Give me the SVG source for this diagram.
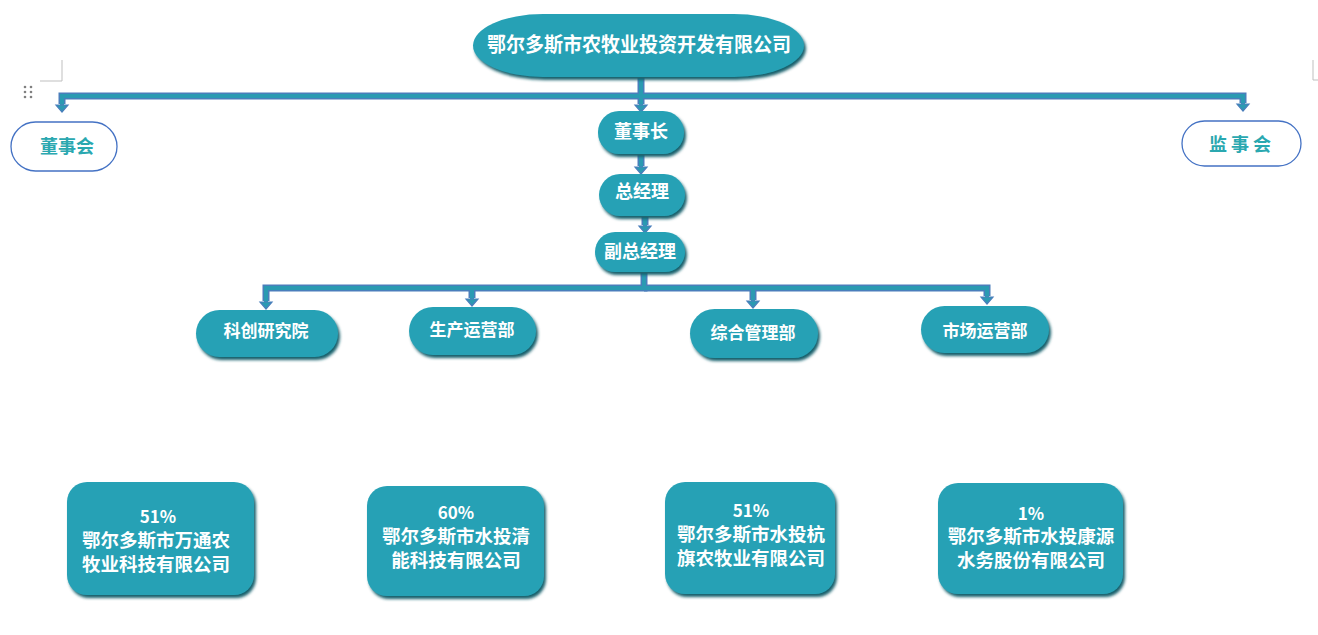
<svg xmlns="http://www.w3.org/2000/svg" width="1318" height="635" viewBox="0 0 1318 635">
<defs>
<filter id="sh" x="-10%" y="-20%" width="125%" height="150%">
<feGaussianBlur in="SourceAlpha" stdDeviation="1.6"/>
<feOffset dx="2" dy="3" result="b"/>
<feFlood flood-color="#17606c"/>
<feComposite in2="b" operator="in"/>
<feMerge><feMergeNode/><feMergeNode in="SourceGraphic"/></feMerge>
</filter>
<marker id="ah" markerUnits="userSpaceOnUse" markerWidth="16" markerHeight="16" refX="0" refY="7" orient="auto" viewBox="0 0 16 16" overflow="visible">
<path d="M0,1 L7,7 L0,13 Z" fill="#2A9AB2" stroke="#4A7EBB" stroke-width="1.2"/>
</marker>
</defs>
<style>
.n{fill:#27A1B5;filter:url(#sh)}
.o{fill:#fff;stroke:#4472C4;stroke-width:1.3}
.t{fill:#fff;font-family:"Noto Sans CJK SC","Noto Sans",sans-serif;font-weight:700;text-anchor:middle;dominant-baseline:central}
.ot{fill:#2AA8B0;font-family:"Noto Sans CJK SC","Noto Sans",sans-serif;font-weight:700;text-anchor:middle;dominant-baseline:central;font-size:18px}
.co{fill:none;stroke:#4A7EBB;stroke-width:7}
.ci{fill:none;stroke:#2A9AB2;stroke-width:4;marker-end:url(#ah)}
.cm{fill:none;stroke:#BFBFBF;stroke-width:1}
</style>
<rect width="1318" height="635" fill="#fff"/>
<g id="marks">
<path class="cm" d="M62,60 V81 H40 M1313,60 V80 H1318"/>
<g fill="#808080">
<circle cx="25" cy="87" r="1.3"/><circle cx="31" cy="87" r="1.3"/>
<circle cx="25" cy="92" r="1.3"/><circle cx="31" cy="92" r="1.3"/>
<circle cx="25" cy="97" r="1.3"/><circle cx="31" cy="97" r="1.3"/>
</g>
</g>
<g id="connectors">
<path class="co" d="M641,96 H62 V104"/>
<path class="co" d="M641,96 H1243 V103"/>
<path class="co" d="M641,78 V104"/>
<path class="co" d="M641,155 V166"/>
<path class="co" d="M645,217 V225"/>
<path class="co" d="M644,273 V288 H266 V301"/>
<path class="co" d="M644,288 H987 V296"/>
<path class="co" d="M472,288 V298"/>
<path class="co" d="M753,288 V300"/>
<path class="ci" d="M641,96 H62 V105"/>
<path class="ci" d="M641,96 H1243 V104"/>
<path class="ci" d="M641,78 V105"/>
<path class="ci" d="M641,155 V167"/>
<path class="ci" d="M645,217 V226"/>
<path class="ci" d="M644,273 V288 H266 V302"/>
<path class="ci" d="M644,288 H987 V297"/>
<path class="ci" d="M472,288 V299"/>
<path class="ci" d="M753,288 V301"/>
</g>
<g id="top">
<rect class="n" x="473" y="14" width="331" height="63" rx="70" ry="31.5"/>
<text class="t" x="639" y="43" font-size="20" textLength="304" lengthAdjust="spacingAndGlyphs">鄂尔多斯市农牧业投资开发有限公司</text>
</g>
<g id="dongshihui">
<rect class="o" x="11" y="122" width="106" height="49" rx="24.5"/>
<text class="ot" x="67" y="145">董事会</text>
</g>
<g id="jianshihui">
<rect class="o" x="1182" y="121" width="119" height="45" rx="22.5"/>
<text class="ot" x="1242" y="143" letter-spacing="4">监事会</text>
</g>
<g id="dongshizhang">
<rect class="n" x="598" y="111" width="86" height="43" rx="21"/>
<text class="t" x="641" y="130" font-size="18">董事长</text>
</g>
<g id="zongjingli">
<rect class="n" x="599" y="174" width="86" height="42" rx="21"/>
<text class="t" x="642" y="190" font-size="18">总经理</text>
</g>
<g id="fuzongjingli">
<rect class="n" x="595" y="232" width="90" height="40" rx="20"/>
<text class="t" x="640" y="250" font-size="18">副总经理</text>
</g>
<g id="kechuang">
<rect class="n" x="196" y="310" width="142" height="47" rx="23.5"/>
<text class="t" x="266" y="329" font-size="17">科创研究院</text>
</g>
<g id="shengchan">
<rect class="n" x="409" y="307" width="127" height="48" rx="24"/>
<text class="t" x="472" y="328" font-size="17">生产运营部</text>
</g>
<g id="zonghe">
<rect class="n" x="690" y="309" width="128" height="49" rx="24.5"/>
<text class="t" x="753" y="331" font-size="17">综合管理部</text>
</g>
<g id="shichang">
<rect class="n" x="921" y="306" width="128" height="47" rx="23.5"/>
<text class="t" x="985" y="329" font-size="17">市场运营部</text>
</g>
<g id="wantong">
<rect class="n" x="67" y="482" width="187" height="113" rx="20"/>
<text class="t" x="158" y="515" font-size="17">51%</text>
<text class="t" x="156" y="539" font-size="18.5">鄂尔多斯市万通农</text>
<text class="t" x="156" y="563" font-size="18.5">牧业科技有限公司</text>
</g>
<g id="qingneng">
<rect class="n" x="367" y="486" width="177" height="110" rx="20"/>
<text class="t" x="456" y="511" font-size="17">60%</text>
<text class="t" x="456" y="535" font-size="18.5">鄂尔多斯市水投清</text>
<text class="t" x="456" y="559" font-size="18.5">能科技有限公司</text>
</g>
<g id="hangqi">
<rect class="n" x="665" y="482" width="170" height="112" rx="20"/>
<text class="t" x="751" y="509" font-size="17">51%</text>
<text class="t" x="751" y="533" font-size="18.5">鄂尔多斯市水投杭</text>
<text class="t" x="751" y="557" font-size="18.5">旗农牧业有限公司</text>
</g>
<g id="kangyuan">
<rect class="n" x="938" y="483" width="185" height="111" rx="20"/>
<text class="t" x="1031" y="512" font-size="17">1%</text>
<text class="t" x="1031" y="535" font-size="18.5">鄂尔多斯市水投康源</text>
<text class="t" x="1031" y="559" font-size="18.5">水务股份有限公司</text>
</g>
</svg>
